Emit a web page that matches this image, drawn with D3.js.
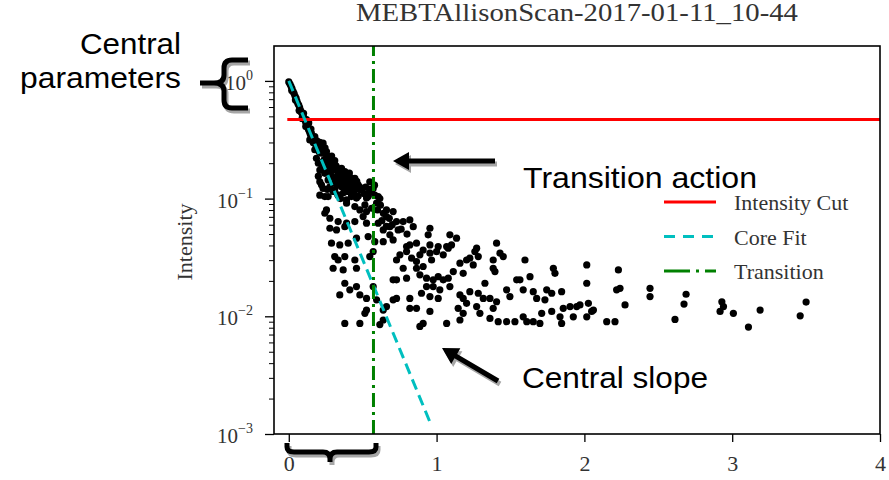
<!DOCTYPE html>
<html>
<head>
<meta charset="utf-8">
<script src="https://cdn.jsdelivr.net/npm/d3@7"></script>
<style>
    body { margin: 0; background: #fff; }
    svg { display: block; }
</style>
</head>
<body>
<svg id="chart" width="889" height="480"></svg>
<script>
/**
 *  Allison scan intensity profile, log scale, with core fit and transition markers
 */

var chartTitle = "MEBTAllisonScan-2017-01-11_10-44";
var yLabel = "Intensity";
var xTicks = [0, 1, 2, 3, 4];
var yDecades = [1e-3, 1e-2, 1e-1, 1];
var yExponents = ["\u22123", "\u22122", "\u22121", "0"];
var legendLabels = ["Intensity Cut", "Core Fit", "Transition"];

var cutLevel = 0.47;
var transitionX = 0.573;
var coreFitX = [0, 0.96];
var coreFitI = [1.0, 0.00122];

// [position, intensity]
var scanPoints = [
    // core
    [0.000,0.98],[0.008,0.94],[0.015,0.90],[0.020,0.83],[0.022,0.86],[0.030,0.81],[0.036,0.78],
    [0.043,0.74],[0.045,0.69],[0.050,0.71],[0.056,0.67],[0.062,0.64],[0.068,0.62],[0.070,0.56],
    [0.074,0.59],[0.080,0.56],[0.086,0.54],[0.090,0.48],[0.092,0.52],[0.098,0.50],[0.100,0.53],
    [0.104,0.48],[0.110,0.46],[0.115,0.41],[0.116,0.44],[0.120,0.47],[0.122,0.42],[0.128,0.40],
    [0.130,0.43],[0.134,0.385],[0.135,0.44],[0.140,0.37],[0.146,0.35],[0.150,0.39],[0.160,0.34],
    // upper wedge
    [0.153,0.36],[0.176,0.336],[0.142,0.315],[0.198,0.277],[0.232,0.296],[0.176,0.26],[0.221,0.243],
    [0.255,0.251],[0.278,0.227],[0.187,0.22],[0.232,0.206],[0.289,0.20],[0.311,0.21],[0.21,0.175],
    [0.244,0.164],[0.30,0.175],[0.334,0.164],[0.357,0.181],[0.379,0.154],[0.266,0.144],[0.323,0.144],
    [0.402,0.144],[0.447,0.149],[0.469,0.131],[0.221,0.131],[0.278,0.126],[0.357,0.126],[0.424,0.122],
    [0.492,0.119],[0.244,0.104],[0.334,0.107],[0.424,0.104],[0.537,0.104],[0.582,0.107],[0.616,0.10],
    [0.165,0.30],[0.19,0.31],[0.205,0.25],[0.245,0.27],[0.26,0.22],[0.2,0.2],[0.25,0.19],[0.27,0.18],
    [0.32,0.19],[0.345,0.15],[0.29,0.155],[0.31,0.135],[0.36,0.14],[0.39,0.13],[0.26,0.12],[0.3,0.115],
    [0.37,0.112],[0.45,0.12],[0.51,0.11],[0.56,0.115],[0.41,0.165],[0.43,0.135],[0.2,0.155],[0.225,0.185],
    [0.18,0.29],[0.21,0.30],[0.22,0.27],[0.25,0.24],[0.27,0.21],[0.29,0.23],[0.24,0.215],[0.30,0.19],
    [0.33,0.18],[0.35,0.165],[0.28,0.165],[0.38,0.17],[0.40,0.155],[0.42,0.15],[0.31,0.15],[0.33,0.13],
    [0.46,0.14],[0.48,0.125],[0.40,0.115],[0.44,0.11],[0.52,0.125],[0.55,0.12],[0.58,0.13],[0.47,0.105],
    [0.35,0.10],
    // 0.1 .. 0.05
    [0.210,0.139],[0.345,0.139],[0.436,0.135],[0.548,0.139],
    [0.232,0.122],[0.311,0.119],[0.379,0.119],[0.424,0.111],[0.481,0.119],[0.537,0.111],[0.571,0.122],
    [0.210,0.107],[0.266,0.104],[0.334,0.107],[0.391,0.0975],[0.458,0.101],[0.526,0.101],[0.605,0.104],
    [0.255,0.0802],[0.244,0.0751],[0.447,0.0855],[0.481,0.0802],[0.515,0.0884],[0.560,0.0828],
    [0.526,0.0776],[0.661,0.0802],[0.706,0.0776],[0.661,0.0703],[0.594,0.0914],[0.391,0.0914],
    [0.278,0.0681],[0.334,0.0638],[0.391,0.0618],[0.447,0.0638],[0.503,0.0703],[0.278,0.0560],
    [0.323,0.0542],[0.379,0.0578],[0.526,0.0618],[0.605,0.0618],[0.639,0.0542],[0.684,0.0578],
    [0.729,0.0638],[0.774,0.0638],[0.819,0.0659],[0.842,0.0578],[0.740,0.0542],[0.684,0.0492],
    [0.62,0.088],[0.64,0.075],[0.60,0.08],[0.68,0.068],[0.70,0.06],[0.63,0.065],[0.66,0.058],
    [0.76,0.055],[0.80,0.05],
    // 0.05 .. 0.03
    [0.955,0.0560],[0.943,0.0492],[1.090,0.0492],[1.135,0.0461],[0.289,0.0418],[0.345,0.0404],
    [0.402,0.0418],[0.458,0.0461],[0.537,0.0476],[0.582,0.0431],[0.639,0.0431],[0.706,0.0446],
    [0.797,0.0391],[0.819,0.0404],[0.864,0.0418],[0.955,0.0404],[1.011,0.0391],[1.079,0.0379],
    [1.101,0.0404],[0.909,0.0366],[1.406,0.0418],[1.271,0.0379],[1.259,0.0355],
    [0.311,0.0322],[0.334,0.0301],[0.379,0.0322],[0.447,0.0301],[0.548,0.0322],[0.571,0.0355],
    [0.729,0.0301],[0.752,0.0333],[0.797,0.0355],[0.831,0.0312],[0.864,0.0292],[0.887,0.0333],
    [0.955,0.0344],[0.966,0.0301],[1.000,0.0355],[1.045,0.0333],[1.068,0.0391],[1.158,0.0283],
    [1.203,0.0301],[1.225,0.0312],[1.282,0.0322],[1.383,0.0301],[1.451,0.0322],[1.429,0.0344],
    [1.598,0.0301],[0.774,0.0256],[0.909,0.0265],[0.864,0.0256],
    // 0.03 .. 0.017
    [0.368,0.0248],[0.458,0.0256],[0.300,0.0256],[0.706,0.0204],[0.729,0.0204],[0.797,0.0211],
    [0.887,0.0225],[0.932,0.0211],[0.977,0.0204],[1.011,0.0217],[1.045,0.0204],[1.079,0.0211],
    [1.113,0.0240],[1.180,0.0232],[1.248,0.0273],[1.327,0.0191],[1.395,0.0240],[1.383,0.0256],
    [1.542,0.0204],[1.632,0.0217],[1.790,0.0256],[1.801,0.0232],[2.016,0.0273],[2.016,0.0191],
    [2.230,0.0248],
    // 0.017 .. 0.011
    [0.345,0.0152],[0.379,0.0191],[0.413,0.0168],[0.458,0.0179],[0.481,0.0152],[0.526,0.0142],
    [0.571,0.0179],[0.729,0.0142],[0.819,0.0142],[0.898,0.0157],[0.932,0.0179],[0.977,0.0179],
    [0.955,0.0147],[1.022,0.0168],[1.011,0.0142],[1.090,0.0179],[1.158,0.0152],[1.180,0.0142],
    [1.225,0.0162],[1.282,0.0157],[1.316,0.0142],[1.361,0.0142],[1.406,0.0133],[1.474,0.0168],
    [1.496,0.0147],[1.564,0.0204],[1.586,0.0168],[1.654,0.0162],[1.677,0.0142],[1.745,0.0168],
    [1.733,0.0138],[1.779,0.0157],[1.846,0.0162],[1.857,0.0117],[1.903,0.0121],[1.948,0.0121],
    [1.970,0.0125],[2.027,0.0129],[2.061,0.0113],[2.241,0.0173],[2.218,0.0168],[2.275,0.0125],
    // floor ~0.01
    [0.379,0.0087],[0.481,0.0087],[0.515,0.0106],[0.526,0.0113],[0.594,0.0138],[0.639,0.0113],
    [0.661,0.0121],[0.706,0.0138],[0.616,0.0085],[0.639,0.0093],[0.819,0.0117],[0.864,0.0117],
    [0.887,0.0082],[0.909,0.0087],[0.955,0.0110],[1.068,0.0087],[1.146,0.0117],[1.158,0.0093],
    [1.180,0.0106],[1.203,0.0129],[1.271,0.0121],[1.293,0.0106],[1.383,0.0117],[1.361,0.0096],
    [1.417,0.0090],[1.474,0.0090],[1.530,0.0090],[1.586,0.0099],[1.610,0.0090],[1.654,0.0090],
    [1.699,0.0087],[1.711,0.0106],[1.779,0.0110],[1.835,0.0099],[1.846,0.0087],[1.925,0.0099],
    [2.016,0.0099],[2.049,0.0110],[2.151,0.0090],[2.207,0.0090],
    // tail
    [2.444,0.0173],[2.444,0.0147],[2.688,0.0154],[2.674,0.0127],[2.613,0.0094],[2.930,0.0133],
    [2.941,0.0121],[2.918,0.0110],[3.008,0.0106],[3.110,0.0081],[3.189,0.0113],[3.460,0.0101],
    [3.500,0.0132]
];

var serif = "'Liberation Serif','Times New Roman',serif";
var sans = "'Liberation Sans',Arial,sans-serif";
var textGrey = "#333";

var plotL = 274, plotR = 880, plotT = 46, plotB = 434;

var svg = d3.select("#chart");

var x = d3.scaleLinear().domain([-0.1, 4]).range([plotL, plotR]);
var y = d3.scaleLog().domain([1e-3, 1.98]).range([plotB, plotT]);

/**
 *  Scatter of the scan
 */
svg.append("g")
    .selectAll("circle")
    .data(scanPoints)
    .enter().append("circle")
    .attr("cx", function (d) { return x(d[0]); })
    .attr("cy", function (d) { return y(d[1]); })
    .attr("r", 3.6)
    .attr("fill", "#000");

/**
 *  Cut, core fit and transition lines
 */
svg.append("line")
    .attr("x1", x(-0.01)).attr("x2", x(4))
    .attr("y1", y(cutLevel)).attr("y2", y(cutLevel))
    .attr("stroke", "#ff0000").attr("stroke-width", 3);

var fitLine = d3.line()
    .x(function (d) { return x(d[0]); })
    .y(function (d) { return y(d[1]); });

svg.append("path")
    .datum(coreFitX.map(function (v, i) { return [v, coreFitI[i]]; }))
    .attr("d", fitLine)
    .attr("fill", "none")
    .attr("stroke", "#00bfbf").attr("stroke-width", 3)
    .attr("stroke-dasharray", "11,6");

svg.append("line")
    .attr("x1", x(transitionX)).attr("x2", x(transitionX))
    .attr("y1", plotB).attr("y2", plotT)
    .attr("stroke", "#008000").attr("stroke-width", 3)
    .attr("stroke-dasharray", "14,5,3,5");

/**
 *  Axes
 */
var yMinor = [];
yDecades.forEach(function (d) {
    if (d < 1) for (var k = 2; k < 10; k++) yMinor.push(d * k);
});

function stripDomain(g) { g.select(".domain").remove(); }

svg.append("g")
    .attr("transform", "translate(" + plotL + ",0)")
    .call(d3.axisLeft(y).tickValues(yDecades).tickSize(9).tickFormat(""))
    .call(stripDomain)
    .selectAll("line").attr("stroke", "#000").attr("stroke-width", 1.3);

svg.append("g")
    .attr("transform", "translate(" + plotL + ",0)")
    .call(d3.axisLeft(y).tickValues(yMinor).tickSize(5).tickFormat(""))
    .call(stripDomain)
    .selectAll("line").attr("stroke", "#000").attr("stroke-width", 1);

var xAxisG = svg.append("g")
    .attr("transform", "translate(0," + plotB + ")")
    .call(d3.axisBottom(x).tickValues(xTicks).tickSize(8).tickPadding(13).tickFormat(d3.format("d")))
    .call(stripDomain);
xAxisG.selectAll("line").attr("stroke", "#000").attr("stroke-width", 1.3);
xAxisG.selectAll("text")
    .attr("font-family", serif).attr("font-size", 22).attr("fill", textGrey);

// 10^n labels
var yLab = svg.append("g")
    .selectAll("text")
    .data(yDecades)
    .enter().append("text")
    .attr("x", 253)
    .attr("y", function (d) { return y(d) + 9; })
    .attr("text-anchor", "end")
    .attr("font-family", serif)
    .attr("fill", textGrey);
yLab.append("tspan").attr("font-size", 21).text("10");
yLab.append("tspan").attr("font-size", 14).attr("dy", -10)
    .text(function (d, i) { return yExponents[i]; });

svg.append("text")
    .attr("transform", "translate(192,242) rotate(-90)")
    .attr("text-anchor", "middle")
    .attr("font-family", serif).attr("font-size", 22)
    .attr("fill", textGrey)
    .text(yLabel);

// frame
svg.append("rect")
    .attr("x", plotL).attr("y", plotT)
    .attr("width", plotR - plotL).attr("height", plotB - plotT)
    .attr("fill", "none").attr("stroke", "#000").attr("stroke-width", 1.6);

svg.append("text")
    .attr("x", (plotL + plotR) / 2).attr("y", 21)
    .attr("text-anchor", "middle")
    .attr("font-family", serif).attr("font-size", 25)
    .attr("textLength", 442).attr("lengthAdjust", "spacingAndGlyphs")
    .attr("fill", textGrey)
    .text(chartTitle);

/**
 *  Legend
 */
var legendStyle = [
    { stroke: "#ff0000", dash: null },
    { stroke: "#00bfbf", dash: "11,8" },
    { stroke: "#008000", dash: "26,6,3,6" }
];
var legend = svg.append("g").attr("transform", "translate(664,202)");
var rows = legend.selectAll("g")
    .data(legendLabels)
    .enter().append("g")
    .attr("transform", function (d, i) { return "translate(0," + (i * 34.5) + ")"; });
rows.append("line")
    .attr("x1", 0).attr("x2", 52)
    .attr("stroke", function (d, i) { return legendStyle[i].stroke; })
    .attr("stroke-width", 3)
    .attr("stroke-dasharray", function (d, i) { return legendStyle[i].dash; });
rows.append("text")
    .attr("x", 70).attr("y", 8)
    .attr("font-family", serif).attr("font-size", 22)
    .attr("fill", textGrey)
    .text(function (d) { return d; });

/**
 *  Call-outs: braces, arrows and notes drawn on top
 */
function arrowPoints(x1, y1, x2, y2) {
    var dx = x2 - x1, dy = y2 - y1;
    var len = Math.sqrt(dx * dx + dy * dy);
    var ux = dx / len, uy = dy / len, nx = -uy, ny = ux;
    var head = 16, hw = 9, sw = 2.6;
    var bx = x2 - ux * head, by = y2 - uy * head;
    var pts = [
        [x1 + nx * sw, y1 + ny * sw], [bx + nx * sw, by + ny * sw], [bx + nx * hw, by + ny * hw],
        [x2, y2],
        [bx - nx * hw, by - ny * hw], [bx - nx * sw, by - ny * sw], [x1 - nx * sw, y1 - ny * sw]
    ];
    return pts.map(function (p) { return p.join(","); }).join(" ");
}

var braces = [
    "M248,60 L232,60 Q224,60 224,68 L224,75 Q224,83 214,83 L200,83 M214,83 Q224,83 224,91 L224,100 Q224,108 232,108 L248,108",
    "M287,443 L287,447 Q287,452 294,452 L323,452 Q330,452 330,459 L330,462 M330,459 Q330,452 337,452 L369,452 Q376,452 376,447 L376,443"
];
var arrows = [
    [495, 161, 393, 161],
    [498, 381, 442, 348]
];

var notes = svg.append("g");
braces.forEach(function (d) {
    notes.append("path").attr("d", d).attr("transform", "translate(2,3)")
        .attr("fill", "none").attr("stroke", "#a6a6a6").attr("stroke-width", 5);
    notes.append("path").attr("d", d)
        .attr("fill", "none").attr("stroke", "#000").attr("stroke-width", 5);
});
arrows.forEach(function (a) {
    var p = arrowPoints(a[0], a[1], a[2], a[3]);
    notes.append("polygon").attr("points", p).attr("transform", "translate(2,3)").attr("fill", "#a6a6a6");
    notes.append("polygon").attr("points", p).attr("fill", "#000");
});

function note(txt, px, py, w, anchor) {
    notes.append("text")
        .attr("x", px).attr("y", py)
        .attr("text-anchor", anchor || "start")
        .attr("font-family", sans).attr("font-size", 29)
        .attr("textLength", w).attr("lengthAdjust", "spacingAndGlyphs")
        .attr("fill", "#000")
        .text(txt);
}
note("Central", 181, 54, 101, "end");
note("parameters", 181, 88, 161, "end");
note("Transition action", 523, 188, 234);
note("Central slope", 522, 388, 186);
</script>
</body>
</html>
